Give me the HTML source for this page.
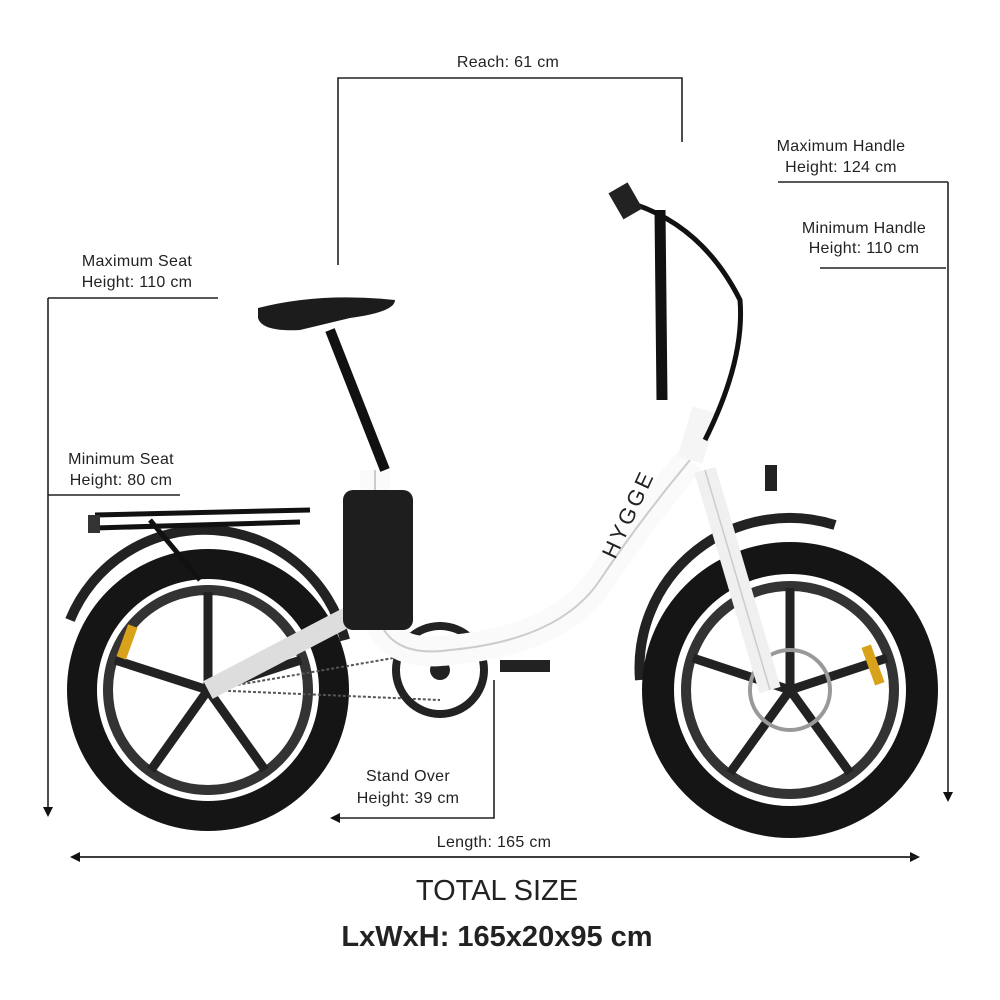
<!DOCTYPE html>
<html><head><meta charset="utf-8"><style>
html,body{margin:0;padding:0;background:#fff;}
svg{display:block;}
text{font-family:"Liberation Sans",Arial,sans-serif;fill:#222;}
</style></head><body>
<svg width="1000" height="1000" viewBox="0 0 1000 1000" xmlns="http://www.w3.org/2000/svg">
<defs>
<marker id="ah" markerWidth="10" markerHeight="10" refX="8" refY="5" orient="auto" markerUnits="userSpaceOnUse"><path d="M0,0 L10,5 L0,10 z" fill="#111"/></marker>
</defs>
<g stroke="#222" stroke-width="1.6" fill="none">
<polyline points="338,265 338,78 682,78 682,142"/>
<line x1="778" y1="182" x2="948" y2="182"/>
<line x1="948" y1="182" x2="948" y2="800" marker-end="url(#ah)"/>
<line x1="820" y1="268" x2="946" y2="268"/>
<line x1="48" y1="298" x2="218" y2="298"/>
<line x1="48" y1="298" x2="48" y2="815" marker-end="url(#ah)"/>
<line x1="48" y1="495" x2="180" y2="495"/>
<polyline points="494,680 494,818 332,818" marker-end="url(#ah)"/>
<line x1="80" y1="857" x2="918" y2="857" marker-end="url(#ah)"/>
<line x1="918" y1="857" x2="72" y2="857" marker-end="url(#ah)"/>
</g>
<g font-size="16" text-anchor="middle" letter-spacing="0.3">
<text x="508" y="67">Reach: 61 cm</text>
<text x="841" y="151">Maximum Handle</text><text x="841" y="172">Height: 124 cm</text>
<text x="864" y="233">Minimum Handle</text><text x="864" y="253">Height: 110 cm</text>
<text x="137" y="266">Maximum Seat</text><text x="137" y="287">Height: 110 cm</text>
<text x="121" y="464">Minimum Seat</text><text x="121" y="485">Height: 80 cm</text>
<text x="408" y="781">Stand Over</text><text x="408" y="803">Height: 39 cm</text>
<text x="494" y="847">Length: 165 cm</text>
</g>
<text x="497" y="900" font-size="29" text-anchor="middle">TOTAL SIZE</text>
<text x="497" y="946" font-size="29" font-weight="bold" text-anchor="middle" fill="#111">LxWxH: 165x20x95 cm</text>
<g>
<path d="M70,620 A145,145 0 0 1 345,640" stroke="#222" stroke-width="10" fill="none"/>
<path d="M640,680 A150,150 0 0 1 835,525" stroke="#222" stroke-width="10" fill="none"/>
<circle cx="208" cy="690" r="126" fill="none" stroke="#151515" stroke-width="30"/>
<circle cx="208" cy="690" r="100" fill="none" stroke="#333" stroke-width="10"/>
<circle cx="790" cy="690" r="132" fill="none" stroke="#151515" stroke-width="32"/>
<circle cx="790" cy="690" r="104" fill="none" stroke="#333" stroke-width="10"/>
<g stroke="#222" stroke-width="9">
<line x1="208" y1="690" x2="208" y2="592"/><line x1="208" y1="690" x2="301" y2="660"/><line x1="208" y1="690" x2="265" y2="770"/><line x1="208" y1="690" x2="151" y2="770"/><line x1="208" y1="690" x2="115" y2="660"/>
<line x1="790" y1="690" x2="790" y2="588"/><line x1="790" y1="690" x2="887" y2="658"/><line x1="790" y1="690" x2="850" y2="773"/><line x1="790" y1="690" x2="730" y2="773"/><line x1="790" y1="690" x2="693" y2="658"/>
</g>
<rect x="122" y="625" width="10" height="34" fill="#d9a21b" transform="rotate(20 127 642)"/>
<rect x="868" y="645" width="10" height="40" fill="#d9a21b" transform="rotate(-20 873 665)"/>
<circle cx="790" cy="690" r="40" fill="none" stroke="#999" stroke-width="4"/>
<path d="M95,515 L310,510 M95,528 L300,522 M150,520 L200,580" stroke="#111" stroke-width="5" fill="none"/>
<rect x="88" y="515" width="12" height="18" fill="#333"/>
<path d="M208,690 L440,650 M208,690 L440,700" stroke="#555" stroke-width="2" stroke-dasharray="3,2"/>
<circle cx="440" cy="670" r="44" fill="none" stroke="#222" stroke-width="8"/>
<circle cx="440" cy="670" r="10" fill="#222"/>
<rect x="500" y="660" width="50" height="12" fill="#222"/>
<path d="M208,690 L380,600 L380,480" stroke="#ddd" stroke-width="20" fill="none"/>
<path d="M375,470 L375,600 Q380,660 450,650 Q560,640 600,580 Q640,520 690,460" stroke="#fafafa" stroke-width="30" fill="none"/>
<path d="M375,470 L375,600 Q380,660 450,650 Q560,640 600,580 Q640,520 690,460" stroke="#ccc" stroke-width="2" fill="none"/>
<path d="M690,460 L705,410" stroke="#f5f5f5" stroke-width="26"/>
<path d="M705,470 L770,690" stroke="#f0f0f0" stroke-width="22"/>
<path d="M705,470 L770,690" stroke="#ccc" stroke-width="1.5"/>
<rect x="343" y="490" width="70" height="140" rx="10" fill="#1e1e1e"/>
<path d="M330,330 L385,470" stroke="#111" stroke-width="10"/>
<path d="M258,308 Q320,292 395,300 Q395,312 350,318 L300,330 Q262,332 258,318 z" fill="#1c1c1c"/>
<path d="M662,400 L660,210" stroke="#111" stroke-width="11"/>
<path d="M620,200 Q700,220 740,300 Q745,360 705,440" stroke="#111" stroke-width="5" fill="none"/>
<rect x="614" y="186" width="22" height="30" fill="#222" transform="rotate(-30 625 200)"/>
<rect x="765" y="465" width="12" height="26" fill="#222"/>
<text x="615" y="560" font-size="22" fill="#555" transform="rotate(-65 615 560)" letter-spacing="3">HYGGE</text>
</g>
</svg>
</body></html>
